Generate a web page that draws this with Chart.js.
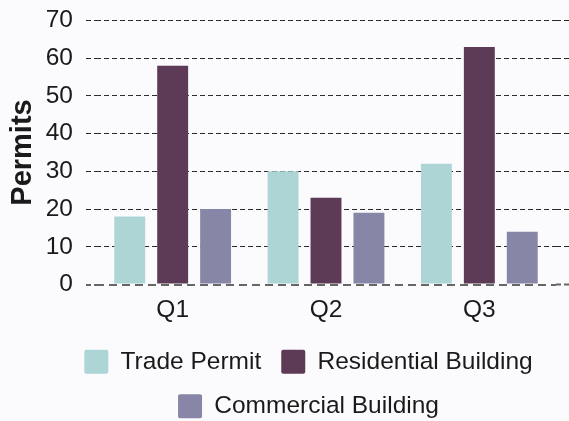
<!DOCTYPE html>
<html>
<head>
<meta charset="utf-8">
<script src="https://cdn.jsdelivr.net/npm/chart.js@4/dist/chart.umd.min.js"></script>
<style>
  html, body { margin: 0; padding: 0; background: #fbfafd; }
  #wrap { width: 569px; height: 421px; }
</style>
</head>
<body>
<div id="wrap"><canvas id="permitChart"></canvas></div>
<script>
// Chart data
const quarters = ['Q1', 'Q2', 'Q3'];
const tradePermit = [18, 30, 32];
const residentialBuilding = [58, 23, 63];
const commercialBuilding = [20, 19, 14];
const yTicks = [0, 10, 20, 30, 40, 50, 60, 70];

const FONT = "'Liberation Sans', Arial, sans-serif";

// shared dashed grid look
const gridColor = ctx => (ctx.tick && ctx.tick.value === 0) ? '#666666' : '#2a2a2a';
const gridWidth = ctx => (ctx.tick && ctx.tick.value === 0) ? 2 : 1;
const gridDash = ctx => (ctx.tick && ctx.tick.value === 0) ? [8, 5] : [5, 3];

const ctx = document.getElementById('permitChart').getContext('2d');
new Chart(ctx, {
    type: 'bar',
    data: {
        labels: quarters,
        datasets: [
            { label: 'Trade Permit', data: tradePermit, backgroundColor: '#aed5d5' },
            { label: 'Residential Building', data: residentialBuilding, backgroundColor: '#5d3a55' },
            { label: 'Commercial Building', data: commercialBuilding, backgroundColor: '#8886a6' }
        ]
    },
    options: {
        responsive: true,
        maintainAspectRatio: false,
        animation: false,
        layout: { padding: { top: 20.5, right: -48, bottom: -7.5, left: 0 } },
        datasets: {
            bar: { categoryPercentage: 0.84, barPercentage: 0.72 }
        },
        plugins: {
            legend: {
                position: 'bottom',
                labels: {
                    color: '#1a1a1a',
                    font: { family: FONT, size: 24.5 },
                    boxWidth: 24,
                    boxHeight: 24,
                    padding: 20,
                    useBorderRadius: true,
                    borderRadius: 2
                }
            },
            tooltip: { enabled: false }
        },
        scales: {
            x: {
                grid: { display: false, drawTicks: false },
                border: { display: false },
                ticks: { color: '#1a1a1a', font: { family: FONT, size: 24.5 }, padding: 11 },
                afterFit: scale => { scale.height = 45; }
            },
            y: {
                min: 0,
                max: 70,
                afterBuildTicks: scale => { scale.ticks = yTicks.map(v => ({ value: v })); },
                ticks: { color: '#1a1a1a', font: { family: FONT, size: 24.5 }, padding: 13 },
                grid: { color: gridColor, lineWidth: gridWidth, tickColor: gridColor, tickWidth: gridWidth,
                        tickLength: 10, tickBorderDash: [5, 3] },
                border: { display: false, dash: gridDash },
                title: { display: true, text: 'Permits', color: '#1a1a1a',
                         font: { family: FONT, size: 29, weight: 'bold' }, padding: { top: 6, bottom: 4 } },
                afterFit: scale => {
                    scale.width = 96;
                    scale.paddingTop = 0;
                    scale.paddingBottom = 0;
                }
            },
            y2: {
                position: 'right',
                min: 0,
                max: 70,
                afterBuildTicks: scale => { scale.ticks = yTicks.map(v => ({ value: v })); },
                ticks: { display: false },
                grid: { drawOnChartArea: false, drawTicks: true, tickLength: 13,
                        tickColor: gridColor, tickWidth: gridWidth, tickBorderDash: [5, 3] },
                border: { display: false },
                afterFit: scale => {
                    scale.width = 61;
                    scale.paddingTop = 0;
                    scale.paddingBottom = 0;
                }
            }
        }
    }
});
</script>
</body>
</html>
